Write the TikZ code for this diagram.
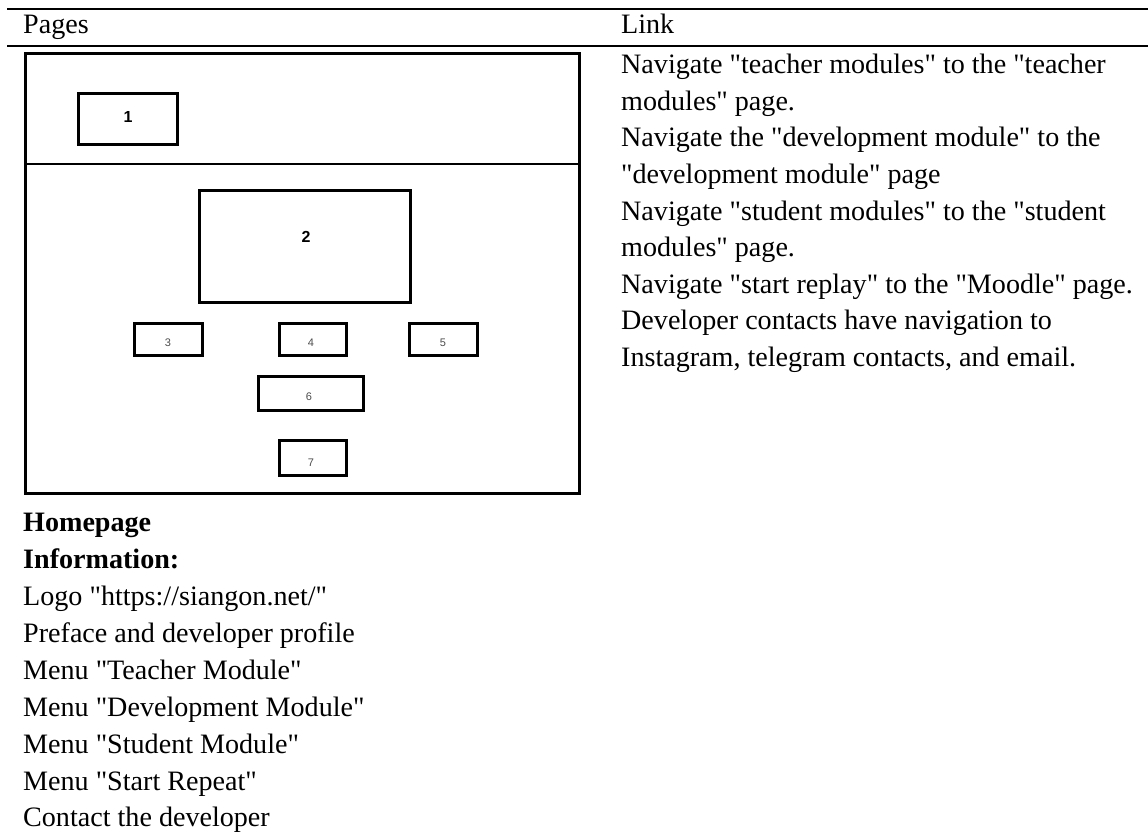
\documentclass[tikz,border=0pt]{standalone}
\usepackage{fontspec}
\setmainfont{Liberation Serif}[Ligatures=TeXOff]
\newfontfamily\boxfont{Liberation Sans}
\begin{document}
\begin{tikzpicture}[x=1pt,y=-1pt,
  tabrule/.style={line width=2pt},
  framebox/.style={line width=3pt},
  wbox/.style={draw,line width=3pt,rectangle,inner sep=0pt,outer sep=0pt},
  bignum/.style={inner sep=0pt,font=\boxfont\bfseries\fontsize{16}{16}\selectfont},
  smallnum/.style={inner sep=0pt,text=black!70,font=\boxfont\fontsize{11}{11}\selectfont},
  txt/.style={anchor=base west,inner sep=0pt,font=\fontsize{28.1}{33}\selectfont},
  btxt/.style={txt,font=\bfseries\fontsize{28.1}{33}\selectfont}]
\useasboundingbox (0,0) rectangle (1148,835);
% table rules
\coordinate (r1a) at (7,9);   \coordinate (r1b) at (1148,9);
\coordinate (r2a) at (7,46);  \coordinate (r2b) at (1148,46);
\draw[tabrule] (r1a) -- (r1b);
\draw[tabrule] (r2a) -- (r2b);
\node[txt] (hpages) at (23,33.3) {Pages};
\node[txt] (hlink) at (621,33.3) {Link};
% wireframe
\coordinate (fa) at (25.5,53.5); \coordinate (fb) at (579.5,493.5);
\draw[framebox] (fa) rectangle (fb);
\coordinate (da) at (25.5,164); \coordinate (db) at (579.5,164);
\draw[line width=2.6pt] (da) -- (db);
\node[wbox,minimum width=99pt,minimum height=51pt] (b1) at (128,119) {};
\node[wbox,minimum width=211pt,minimum height=112pt] (b2) at (305,246.5) {};
\node[wbox,minimum width=68pt,minimum height=32pt] (b3) at (168.5,339.5) {};
\node[wbox,minimum width=67pt,minimum height=32pt] (b4) at (313,339.5) {};
\node[wbox,minimum width=68pt,minimum height=32pt] (b5) at (443.5,339.5) {};
\node[wbox,minimum width=105pt,minimum height=34pt] (b6) at (311,393.5) {};
\node[wbox,minimum width=67pt,minimum height=35pt] (b7) at (313,458) {};
\node[bignum] (l1) at (128,116.5) {1};
\node[bignum] (l2) at (306,237) {2};
\node[smallnum] (l3) at (168,343) {3};
\node[smallnum] (l4) at (311,343) {4};
\node[smallnum] (l5) at (443,343) {5};
\node[smallnum] (l6) at (309,397) {6};
\node[smallnum] (l7) at (311,463) {7};
% left column text
\node[btxt] (t1) at (23,531.7) {Homepage};
\node[btxt] (t2) at (23,568.6) {Information:};
\node[txt] (t3) at (23,605.5) {Logo "https://siangon.net/"};
\node[txt] (t4) at (23,642.4) {Preface and developer profile};
\node[txt] (t5) at (23,679.3) {Menu "Teacher Module"};
\node[txt] (t6) at (23,716.2) {Menu "Development Module"};
\node[txt] (t7) at (23,753.1) {Menu "Student Module"};
\node[txt] (t8) at (23,790.0) {Menu "Start Repeat"};
\node[txt] (t9) at (23,826.9) {Contact the developer};
% right column text
\node[txt] (n1) at (621,73.3) {Navigate "teacher modules" to the "teacher};
\node[txt] (n2) at (621,110.0) {modules" page.};
\node[txt] (n3) at (621,146.6) {Navigate the "development module" to the};
\node[txt] (n4) at (621,183.3) {"development module" page};
\node[txt] (n5) at (621,220.0) {Navigate "student modules" to the "student};
\node[txt] (n6) at (621,256.6) {modules" page.};
\node[txt] (n7) at (621,293.3) {Navigate "start replay" to the "Moodle" page.};
\node[txt] (n8) at (621,329.9) {Developer contacts have navigation to};
\node[txt] (n9) at (621,366.6) {Instagram, telegram contacts, and email.};
\end{tikzpicture}
\end{document}
